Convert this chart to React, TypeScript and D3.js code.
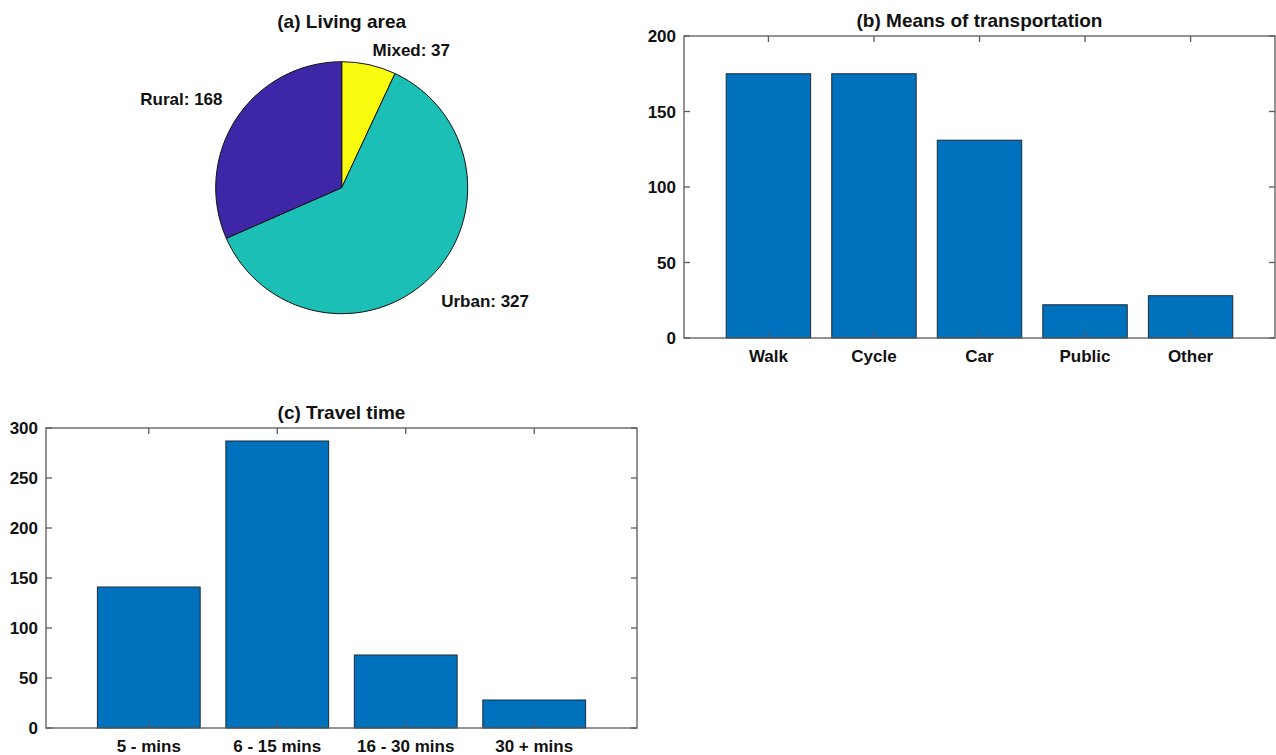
import React from "react";
import * as d3 from "d3";

// ---- data ----
const areaLabels = ["Mixed", "Urban", "Rural"];
const areaValues = [37, 327, 168];
const areaColors = ["#f9fb0e", "#1bbfb5", "#3d27a7"];

const transportCats = ["Walk", "Cycle", "Car", "Public", "Other"];
const transportValues = [175, 175, 131, 22, 28];
const transportTicks = [0, 50, 100, 150, 200];

const travelCats = ["5 - mins", "6 - 15 mins", "16 - 30 mins", "30 + mins"];
const travelValues = [141, 287, 73, 28];
const travelTicks = [0, 50, 100, 150, 200, 250, 300];

const FONT = "'Liberation Sans', Arial, Helvetica, sans-serif";
const BAR = "#0072bd";
const AXIS = "#5a5a5a";
const TXT = "#111";
const TICK_FS = 17;
const TITLE_FS = 19;

type BarProps = {
  x0: number; x1: number; y0: number; y1: number;
  cats: string[]; values: number[]; ticks: number[]; title: string;
};

function BarPanel({ x0, x1, y0, y1, cats, values, ticks, title }: BarProps) {
  const n = cats.length;
  const x = d3.scaleLinear().domain([0.2, n + 0.8]).range([x0, x1]);
  const y = d3.scaleLinear().domain([0, ticks[ticks.length - 1]]).range([y1, y0]);
  const bw = x(1.8) - x(1);
  const tl = 6;
  return (
    <g fontFamily={FONT} fontWeight="bold" fill={TXT}>
      <text x={(x0 + x1) / 2} y={y0 - 9} textAnchor="middle" fontSize={TITLE_FS}>{title}</text>
      {values.map((v, i) => (
        <rect key={i} x={x(i + 1) - bw / 2} y={y(v)} width={bw} height={y(0) - y(v)}
          fill={BAR} stroke="#1b2a3a" strokeWidth={1} />
      ))}
      <rect x={x0} y={y0} width={x1 - x0} height={y1 - y0} fill="none" stroke={AXIS} strokeWidth={1.3} />
      {cats.map((c, i) => (
        <g key={c}>
          <line x1={x(i + 1)} x2={x(i + 1)} y1={y0} y2={y0 + tl} stroke={AXIS} strokeWidth={1.3} />
          <line x1={x(i + 1)} x2={x(i + 1)} y1={y1} y2={y1 - tl} stroke={AXIS} strokeWidth={1.3} />
          <text x={x(i + 1)} y={y1 + 24} textAnchor="middle" fontSize={TICK_FS}>{c}</text>
        </g>
      ))}
      {ticks.map((t) => (
        <g key={t}>
          <line x1={x0} x2={x0 + tl} y1={y(t)} y2={y(t)} stroke={AXIS} strokeWidth={1.3} />
          <line x1={x1} x2={x1 - tl} y1={y(t)} y2={y(t)} stroke={AXIS} strokeWidth={1.3} />
          <text x={x0 - 8} y={y(t)} dy="0.36em" textAnchor="end" fontSize={TICK_FS}>{t}</text>
        </g>
      ))}
    </g>
  );
}

function PiePanel() {
  const cx = 341.7, cy = 187.7, R = 126;
  const data = areaValues.map((v, i) => ({ v, label: areaLabels[i], color: areaColors[i] }));
  const arcs = d3.pie<any>().value((d) => d.v).sort(null)(data);
  const arc = d3.arc<any>().innerRadius(0).outerRadius(R);
  const lr = R * 1.13;
  return (
    <g fontFamily={FONT} fontWeight="bold" fill={TXT}>
      <text x={cx} y={28} textAnchor="middle" fontSize={TITLE_FS}>(a) Living area</text>
      <g transform={`translate(${cx},${cy})`}>
        {arcs.map((a, i) => (
          <path key={i} d={arc(a) as string} fill={a.data.color} stroke="#111" strokeWidth={1} />
        ))}
        {arcs.map((a, i) => {
          const m = (a.startAngle + a.endAngle) / 2;
          const lx = lr * Math.sin(m);
          const ly = -lr * Math.cos(m);
          const anchor = lx >= 0 ? "start" : "end";
          let dy = "0.4em";
          if (ly > 0) dy = "1.05em";
          else if (ly > -0.9 * lr) dy = "-0.3em";
          return (
            <text key={"l" + i} x={lx} y={ly} dy={dy} textAnchor={anchor} fontSize={TICK_FS}>
              {`${a.data.label}: ${a.data.v}`}
            </text>
          );
        })}
      </g>
    </g>
  );
}

export default function App() {
  return (
    <svg width={1276} height={755} style={{ position: "absolute", left: 0, top: 0, background: "#fff" }}>
      <rect width={1276} height={755} fill="#fff" />
      <PiePanel />
      <BarPanel x0={684} x1={1275} y0={36} y1={338} cats={transportCats} values={transportValues}
        ticks={transportTicks} title="(b) Means of transportation" />
      <BarPanel x0={46} x1={637} y0={428} y1={728} cats={travelCats} values={travelValues}
        ticks={travelTicks} title="(c) Travel time" />
    </svg>
  );
}
